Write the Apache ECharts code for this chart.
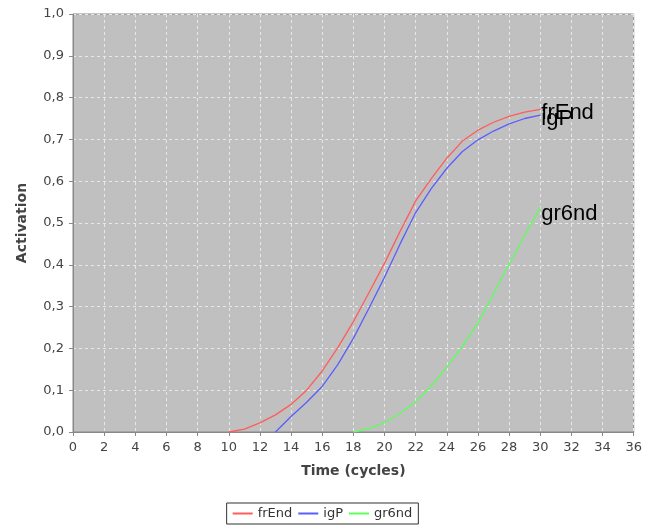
<!DOCTYPE html>
<html>
<head>
<meta charset="utf-8">
<script src="https://cdn.jsdelivr.net/npm/echarts@6/dist/echarts.min.js"></script>
<style>
  html, body { margin: 0; padding: 0; background: #fff; }
  #chart { width: 645px; height: 528px; }
</style>
</head>
<body>
<div id="chart"></div>
<script>
// cycles shared by every series
var cycles = [10, 11, 12, 13, 14, 15, 16, 17, 18, 19, 20, 21, 22, 23, 24, 25, 26, 27, 28, 29, 30];

var frEnd = [0, 0.007, 0.022, 0.041, 0.066, 0.1, 0.146, 0.202, 0.264, 0.333, 0.404, 0.48, 0.553, 0.606, 0.655, 0.696, 0.722, 0.741, 0.755, 0.765, 0.772];
var igP = [null, null, null, 0, 0.037, 0.071, 0.109, 0.161, 0.224, 0.296, 0.37, 0.45, 0.525, 0.582, 0.631, 0.671, 0.699, 0.72, 0.737, 0.75, 0.758];
var gr6nd = [null, null, null, null, null, null, null, null, 0, 0.008, 0.022, 0.045, 0.073, 0.11, 0.155, 0.205, 0.261, 0.33, 0.402, 0.47, 0.538];

var seriesNames = ["frEnd", "igP", "gr6nd"];
var seriesColors = ["#ff5c5c", "#5c5cff", "#5cff5c"];
var labelOffsets = [[1, 4], [1, 4], [1, 7]];

var font = "DejaVu Sans";
var myChart = echarts.init(document.getElementById("chart"));

function pairs(vals) {
  var out = [];
  for (var i = 0; i < cycles.length; i++) {
    if (vals[i] !== null) out.push([cycles[i], vals[i]]);
  }
  return out;
}

function makeSeries(idx, vals) {
  var color = seriesColors[idx];
  return {
    name: seriesNames[idx],
    type: "line",
    data: pairs(vals),
    showSymbol: false,
    symbol: "none",
    lineStyle: { color: color, width: 1.3 },
    itemStyle: { color: color },
    animation: false,
    endLabel: {
      show: true,
      formatter: "{a}",
      color: "#000",
      fontFamily: "Liberation Sans",
      fontSize: 22,
      distance: 0,
      offset: labelOffsets[idx],
    },
  };
}

var option = {
  backgroundColor: "#fff",
  animation: false,
  grid: {
    left: 73,
    right: 8,
    top: 14,
    bottom: 96,
    show: true,
    backgroundColor: "#c0c0c0",
    borderColor: "#888",
    borderWidth: 1,
  },
  legend: {
    data: seriesNames.map(function (n, i) {
      return { name: n, itemStyle: { color: seriesColors[i] } };
    }),
    top: 503,
    left: "center",
    padding: [4, 6],
    borderColor: "#333",
    borderWidth: 1,
    itemGap: 6,
    itemWidth: 20,
    itemHeight: 2,
    icon: "rect",
    textStyle: { fontFamily: font, fontSize: 13, color: "#333" },
  },
  xAxis: {
    type: "value",
    min: 0,
    max: 36,
    interval: 2,
    name: "Time (cycles)",
    nameLocation: "middle",
    nameGap: 28,
    nameTextStyle: { fontFamily: font, fontSize: 14, fontWeight: "bold", color: "#444" },
    offset: 4,
    axisLine: { show: true, lineStyle: { color: "#888" } },
    axisTick: { show: true, length: 4, lineStyle: { color: "#888" } },
    axisLabel: { fontFamily: font, fontSize: 13, color: "#444", margin: 5 },
    splitLine: { show: true, lineStyle: { color: "#e8e8e8", type: [3, 3], width: 1 } },
  },
  yAxis: {
    type: "value",
    min: 0,
    max: 1,
    interval: 0.1,
    name: "Activation",
    nameLocation: "middle",
    nameGap: 40,
    nameTextStyle: { fontFamily: font, fontSize: 14, fontWeight: "bold", color: "#444" },
    offset: 4,
    axisLine: { show: true, lineStyle: { color: "#888" } },
    axisTick: { show: true, length: 4, lineStyle: { color: "#888" } },
    axisLabel: {
      fontFamily: font,
      fontSize: 13,
      color: "#444",
      margin: 5,
      formatter: function (v) { return v.toFixed(1).replace(".", ","); },
    },
    splitLine: { show: true, lineStyle: { color: "#e8e8e8", type: [3, 3], width: 1 } },
  },
  series: [
    makeSeries(0, frEnd),
    makeSeries(1, igP),
    makeSeries(2, gr6nd),
  ],
};

myChart.setOption(option);
</script>
</body>
</html>
